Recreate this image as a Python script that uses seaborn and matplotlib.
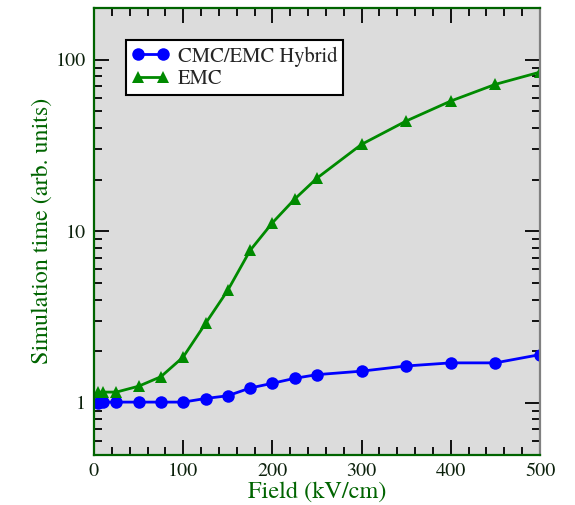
import numpy as np
import pandas as pd
import matplotlib
matplotlib.use("Agg")
import matplotlib.pyplot as plt
import seaborn as sns
from matplotlib.ticker import LogLocator, FixedLocator, FixedFormatter, NullFormatter, MultipleLocator

# Field values (kV/cm) shared by both methods
field = [5, 10, 25, 50, 75, 100, 125, 150, 175, 200, 225, 250, 300, 350, 400, 450, 500]

# Simulation time (arb. units)
hybrid = [1.00, 1.01, 1.01, 1.01, 1.01, 1.01, 1.06, 1.10, 1.22, 1.30, 1.39, 1.46,
          1.53, 1.64, 1.71, 1.71, 1.91]
emc = [1.15, 1.155, 1.155, 1.25, 1.42, 1.85, 2.90, 4.53, 7.73, 11.2, 15.4, 20.4,
       32.1, 43.9, 57.4, 71.8, 84.6]

series_names = ["CMC/EMC Hybrid", "EMC"]
y_ticks = [1, 10, 100]
y_tick_labels = ["1", "10", "100"]

df = pd.concat([
    pd.DataFrame({"Field": field, "Time": hybrid, "Method": series_names[0]}),
    pd.DataFrame({"Field": field, "Time": emc, "Method": series_names[1]}),
])

sns.set_theme(style="ticks")
plt.rcParams["font.family"] = ["TeX Gyre Termes", "Liberation Serif", "STIXGeneral", "DejaVu Serif"]

GREEN = "#008a00"
AXGREEN = "#006400"
BG = "#dcdcdc"

fig = plt.figure(figsize=(5.75, 5.05), dpi=100)
ax = fig.add_axes([94 / 575, 1 - 454.5 / 505, 446 / 575, 446.5 / 505])
ax.set_facecolor(BG)

sns.lineplot(
    data=df, x="Field", y="Time", hue="Method", style="Method",
    palette={series_names[0]: "#0000ff", series_names[1]: GREEN},
    markers={series_names[0]: "o", series_names[1]: "^"},
    dashes=False, markersize=9, markeredgewidth=0, linewidth=2,
    ax=ax, legend=False, sort=False,
)

ax.set_yscale("log")
ax.set_xlim(0, 500)
ax.set_ylim(0.5, 200)

# Inward ticks on all four sides
ax.xaxis.set_major_locator(MultipleLocator(100))
ax.xaxis.set_minor_locator(MultipleLocator(20))
ax.yaxis.set_major_locator(FixedLocator(y_ticks))
ax.yaxis.set_major_formatter(FixedFormatter(y_tick_labels))
ax.yaxis.set_minor_locator(LogLocator(base=10, subs=np.arange(2, 10)))
ax.yaxis.set_minor_formatter(NullFormatter())
ax.tick_params(which="both", direction="in", top=True, right=True,
               color="black", labelcolor="#0b200b", labelsize=14.5)
ax.tick_params(which="major", length=11, width=1.3, pad=6)
ax.tick_params(which="minor", length=6, width=1.3)

for side in ["left", "top", "bottom"]:
    ax.spines[side].set_color(AXGREEN)
    ax.spines[side].set_linewidth(1.6)
ax.spines["right"].set_color("#808080")
ax.spines["right"].set_linewidth(1.6)

ax.set_xlabel("Field (kV/cm)", fontsize=17.5, color=AXGREEN, labelpad=1)
ax.set_ylabel("Simulation time (arb. units)", fontsize=17.3, color=AXGREEN, labelpad=2)

# Legend built from the plotted lines
handles = ax.get_lines()[:2]
leg = ax.legend(handles, series_names, loc="upper left",
                bbox_to_anchor=(0.072, 0.928), borderaxespad=0,
                fontsize=14.8, numpoints=2, handlelength=1.8, handletextpad=0.4,
                frameon=True, fancybox=False, edgecolor="black",
                borderpad=0.3, labelspacing=0.12)
leg.get_frame().set_linewidth(1.5)
leg.get_frame().set_facecolor("white")
leg.get_frame().set_alpha(1)

fig.savefig("out.png", dpi=100)
